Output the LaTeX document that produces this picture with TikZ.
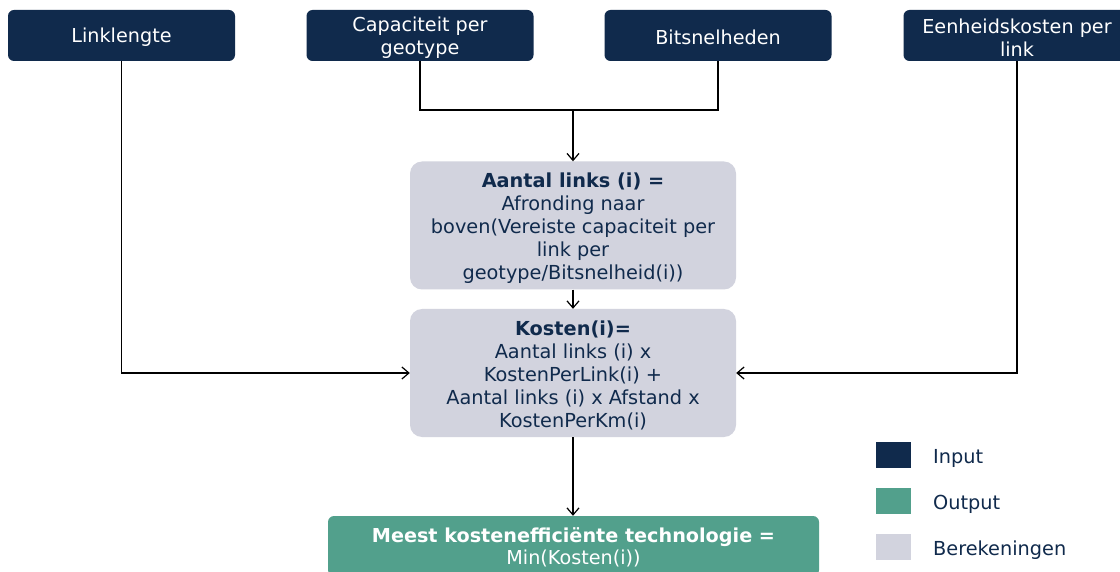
\documentclass[tikz,border=0pt]{standalone}
\usepackage{fontspec}
\setmainfont{DejaVu Sans}
\usetikzlibrary{arrows.meta}
\definecolor{navy}{HTML}{102A4C}
\definecolor{calc}{HTML}{D2D3DE}
\definecolor{outc}{HTML}{52A08C}
\tikzset{
  inbox/.style={fill=navy, rounded corners=6pt,
    minimum width=227pt, minimum height=51pt, inner sep=0pt},
  intext/.style={text=white, align=center, inner sep=0pt,
    font=\fontsize{19.2}{23}\selectfont},
  calcbox/.style={fill=calc, rounded corners=12pt,
    minimum width=326pt, minimum height=128pt, inner sep=0pt},
  calctext/.style={text=navy, align=center, inner sep=0pt,
    font=\fontsize{19.3}{23}\selectfont},
  outbox/.style={fill=outc, rounded corners=6pt,
    minimum width=491pt, minimum height=60pt, inner sep=0pt},
  outtext/.style={text=white, align=center, inner sep=0pt,
    font=\fontsize{19.2}{22}\selectfont},
  legsq/.style={minimum width=35pt, minimum height=26pt, inner sep=0pt},
  leglbl/.style={anchor=west, text=navy, inner sep=0pt, font=\fontsize{19.3}{22}\selectfont},
  conn/.style={draw=black, line width=1.2pt},
  arr/.style={conn, -{Straight Barb[length=7pt, width=12pt, line width=1.2pt]}}
}
\begin{document}
\begin{tikzpicture}[x=1pt, y=-1pt]
\clip (0,0) rectangle (1120,572);
\fill[white] (0,0) rectangle (1120,572);

\node[inbox] (ll) at (121.5,35.5) {};
\node[inbox] (cap) at (420,35.5) {};
\node[inbox] (bit) at (718,35.5) {};
\node[inbox] (eh) at (1017,35.5) {};
\node[intext] (llt) at ([yshift=-2pt]ll.center) {Linklengte};
\node[intext] (capt) at ([yshift=-2pt]cap.center) {Capaciteit per\\geotype};
\node[intext] (bitt) at ([yshift=-2pt]bit.center) {Bitsnelheden};
\node[intext] (eht) at ([yshift=-2pt]eh.center) {Eenheidskosten per\\link};

\node[calcbox] (aan) at (573,225.5) {};
\node[calcbox] (kos) at (573,373) {};
\node[calctext] (aant) at ([yshift=-3pt]aan.center) {\textbf{Aantal links (i) =}\\Afronding naar\\boven(Vereiste capaciteit per\\link per\\geotype/Bitsnelheid(i))};
\node[calctext] (kost) at ([yshift=-2pt]kos.center) {\textbf{Kosten(i)=}\\Aantal links (i) x\\KostenPerLink(i) +\\Aantal links (i) x Afstand x\\KostenPerKm(i)};

\node[outbox] (out) at (573.5,546) {};
\node[outtext] (outt) at ([yshift=-1pt]out.center) {\textbf{Meest kostenefficiënte technologie =}\\Min(Kosten(i))};

\coordinate (mj) at (573,110);
\draw[conn] (cap.south) |- (mj) -| (bit.south);
\draw[arr] (mj) -- (aan.north);
\draw[arr] (ll.south) |- (kos.west);
\draw[arr] (eh.south) |- (kos.east);
\draw[arr] (aan.south) -- (kos.north);
\draw[arr] (kos.south) -- (kos.south |- out.north);

\node[legsq, fill=navy] (lin) at (893.5,455) {};
\node[legsq, fill=outc] (lout) at (893.5,500.5) {};
\node[legsq, fill=calc] (lcalc) at (893.5,547) {};
\node[leglbl] (tin) at (933,458) {Input};
\node[leglbl] (tout) at (933,504) {Output};
\node[leglbl] (tcalc) at (933,550) {Berekeningen};
\end{tikzpicture}
\end{document}
